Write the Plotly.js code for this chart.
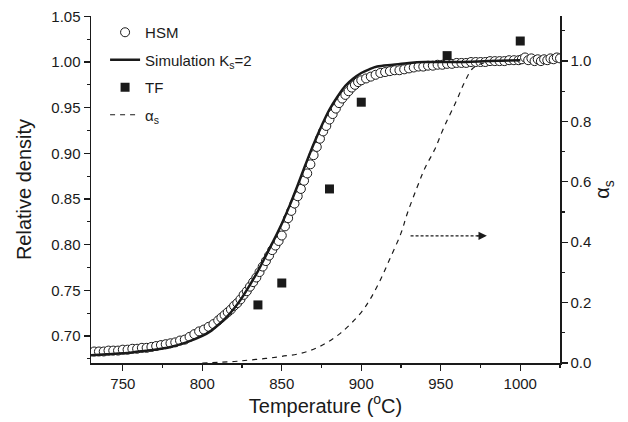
<!DOCTYPE html>
<html>
<head>
<meta charset="utf-8">
<script src="https://cdn.plot.ly/plotly-3.0.1.min.js"></script>
<style>html,body{margin:0;padding:0;background:#fff;}#chart{width:628px;height:422px;}</style>
</head>
<body>
<div id="chart"></div>
<script>
// HSM measured relative density (open circles)
const hsmT = [732,735,738,741,744,747,750,753,756,759,762,765,768,771,774,777,780,783,786,789,792,795,798,801,804,807,810,812,814,816,818,820,822,824,826,828,830,832,834,836,838,840,842,844,846,848,850,852,854,856,858,860,862,864,866,868,870,872,874,876,878,880,882,884,886,888,890,892,894,896,898,900,903,906,909,912,915,918,921,924,927,930,933,936,939,942,945,948,951,954,957,960,963,966,969,972,975,978,981,984,987,990,993,996,999,1001,1003,1005,1007,1009,1011,1013,1015,1017,1019,1021,1023,1025];
const hsmD = [0.683,0.683,0.683,0.684,0.684,0.684,0.685,0.685,0.686,0.686,0.687,0.687,0.688,0.689,0.690,0.691,0.692,0.693,0.695,0.696,0.699,0.702,0.705,0.707,0.710,0.713,0.717,0.720,0.723,0.726,0.729,0.733,0.736,0.740,0.745,0.749,0.754,0.759,0.764,0.770,0.776,0.782,0.788,0.794,0.799,0.804,0.810,0.820,0.829,0.837,0.845,0.853,0.861,0.870,0.878,0.888,0.898,0.907,0.916,0.924,0.930,0.937,0.943,0.949,0.955,0.960,0.964,0.968,0.972,0.975,0.978,0.980,0.982,0.984,0.986,0.988,0.989,0.990,0.991,0.991,0.992,0.993,0.994,0.995,0.995,0.996,0.996,0.997,0.997,0.998,0.998,0.999,0.999,0.999,1.000,1.000,1.000,1.000,1.001,1.001,1.001,1.001,1.002,1.002,1.002,1.003,1.005,1.002,1.004,1.001,1.003,1.001,1.003,1.002,1.004,1.003,1.005,1.004];

// Simulation Ks=2 (solid line)
const simT = [730,740,750,760,770,780,790,800,805,810,815,820,825,830,835,840,845,850,855,860,865,870,875,880,885,890,895,900,905,910,920,930,940,960,980,1000];
const simD = [0.679,0.680,0.681,0.683,0.685,0.688,0.693,0.700,0.705,0.712,0.720,0.730,0.742,0.756,0.771,0.788,0.805,0.823,0.843,0.865,0.888,0.910,0.930,0.948,0.962,0.974,0.982,0.988,0.992,0.995,0.997,0.999,1.000,1.000,1.001,1.002];

// TF (filled squares)
const tfT = [835,850,880,900,954,1000];
const tfD = [0.734,0.758,0.861,0.956,1.007,1.023];

// alpha_s (dashed, right axis)
const alT = [800,820,830,840,850,862,874,887,900,906,912,918,925,929,935,940,946,952,960,965,970,975,985,990];
const alV = [0.000,0.005,0.010,0.015,0.022,0.032,0.055,0.099,0.168,0.215,0.275,0.345,0.430,0.496,0.580,0.645,0.705,0.780,0.870,0.930,0.975,0.990,1.000,1.000];

// arrow pointing to the right axis
const arrowT = [931,975];
const arrowV = [0.421,0.421];

const FONT = 'Liberation Sans, Arial, sans-serif';
const INK = '#1a1a1a';

const traces = [
  {x: hsmT, y: hsmD, name: 'HSM', mode: 'markers', type: 'scatter', legendgroup: 'a',
   marker: {symbol: 'circle', size: 9, color: '#ffffff', line: {color: INK, width: 1}}},
  {x: simT, y: simD, name: 'Simulation K<sub>s</sub>=2', mode: 'lines', type: 'scatter', legendgroup: 'b',
   line: {color: INK, width: 2.5, shape: 'spline'}},
  {x: tfT, y: tfD, name: 'TF', mode: 'markers', type: 'scatter', legendgroup: 'c',
   marker: {symbol: 'square', size: 9, color: INK}},
  {x: alT, y: alV, name: '\u03b1<sub>s</sub>', mode: 'lines', type: 'scatter', yaxis: 'y2', legendgroup: 'd',
   line: {color: INK, width: 1.2, dash: '5px,5px', shape: 'spline'}},
  {x: arrowT, y: arrowV, mode: 'lines', type: 'scatter', yaxis: 'y2', showlegend: false, hoverinfo: 'skip',
   line: {color: INK, width: 1.2, dash: '3px,2px'}}
];

const axBase = {
  showline: true, linecolor: INK, linewidth: 1.5, ticks: 'outside', ticklen: 6, tickwidth: 1.2,
  tickcolor: INK, showgrid: false, zeroline: false,
  tickfont: {family: FONT, size: 15, color: INK}
};

const layout = {
  width: 628, height: 422,
  margin: {l: 91, r: 68, t: 16, b: 59},
  paper_bgcolor: '#fff', plot_bgcolor: '#fff',
  font: {family: FONT, color: INK},
  showlegend: true,
  legend: {x: 0.03, y: 1.0, xanchor: 'left', yanchor: 'top', bgcolor: 'rgba(0,0,0,0)',
           font: {family: FONT, size: 15, color: INK}, traceorder: 'grouped', tracegroupgap: 5},
  xaxis: Object.assign({}, axBase, {
    range: [730, 1025], dtick: 50, tick0: 750,
    minor: {dtick: 25, ticks: 'outside', ticklen: 3, tickcolor: INK},
    title: {text: 'Temperature (<sup>o</sup>C)', font: {family: FONT, size: 20, color: INK}, standoff: 8}
  }),
  xaxis2: {overlaying: 'x', side: 'top', anchor: 'y', range: [730, 1025], dtick: 25, tick0: 750,
    showline: true, linecolor: INK, linewidth: 1.5, ticks: 'inside', ticklen: 3, tickcolor: INK,
    showticklabels: false, showgrid: false, zeroline: false},
  yaxis: Object.assign({}, axBase, {
    range: [0.6704, 1.0504], dtick: 0.05, tick0: 0.7, tickformat: '.2f',
    minor: {dtick: 0.025, ticks: 'outside', ticklen: 3, tickcolor: INK},
    title: {text: 'Relative density', font: {family: FONT, size: 20, color: INK}, standoff: 14}
  }),
  yaxis2: Object.assign({}, axBase, {
    overlaying: 'y', side: 'right', anchor: 'x',
    range: [0, 1.149], dtick: 0.2, tick0: 0, tickformat: '.1f',
    minor: {dtick: 0.1, ticks: 'outside', ticklen: 3, tickcolor: INK},
    title: {text: '\u03b1<sub>s</sub>', font: {family: FONT, size: 20, color: INK}, standoff: 4}
  }),
  annotations: [{
    x: 979, y: 0.421, xref: 'x', yref: 'y2', ax: 972, ay: 0.421, axref: 'x', ayref: 'y2',
    text: '', showarrow: true, arrowhead: 2, arrowsize: 1.4, arrowwidth: 1.2, arrowcolor: INK
  }]
};

Plotly.newPlot('chart', traces, layout, {displayModeBar: false, staticPlot: true});
</script>
</body>
</html>
